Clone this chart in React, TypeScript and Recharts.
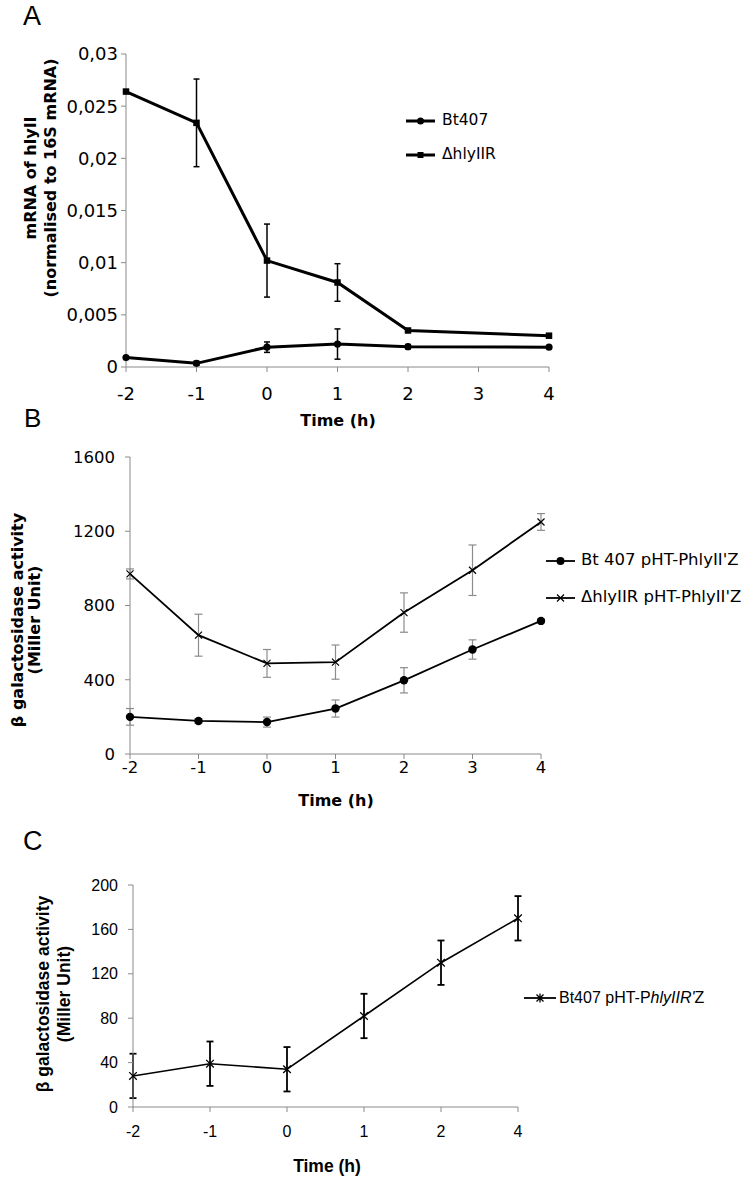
import React from 'react';
import { LineChart, Line, XAxis, YAxis, ErrorBar, Legend } from 'recharts';

// ---------- Panel A data ----------
const timesA = [-2, -1, 0, 1, 2, 4];
const ticksA = [-2, -1, 0, 1, 2, 3, 4];
const bt407A = [0.0009, 0.00035, 0.0019, 0.0022, 0.00195, 0.0019];
const bt407AErr = [0, 0.0002, 0.0005, 0.00145, 0.0002, 0];
const dRA = [0.0264, 0.0234, 0.0102, 0.0081, 0.0035, 0.003];
const dRAErr = [0, 0.0042, 0.0035, 0.0018, 0.0001, 0.0001];
const yTicksA = [0, 0.005, 0.01, 0.015, 0.02, 0.025, 0.03];

// ---------- Panel B data ----------
const timesB = [-2, -1, 0, 1, 2, 3, 4];
const bt407B = [200, 178, 172, 245, 397, 563, 717];
const bt407BErr = [45, 12, 27, 46, 68, 52, 10];
const dRB = [970, 640, 488, 495, 762, 990, 1250];
const dRBErr = [27, 113, 75, 92, 106, 136, 45];
const yTicksB = [0, 400, 800, 1200, 1600];

// ---------- Panel C data ----------
const timesC = ['-2', '-1', '0', '1', '2', '4'];
const btC = [28, 39, 34, 82, 130, 170];
const btCErr = [20, 20, 20, 20, 20, 20];
const yTicksC = [0, 40, 80, 120, 160, 200];

const dataA = timesA.map((t, i) => ({ t, bt: bt407A[i], btErr: bt407AErr[i], dr: dRA[i], drErr: dRAErr[i] }));
const dataB = timesB.map((t, i) => ({ t, bt: bt407B[i], btErr: bt407BErr[i], dr: dRB[i], drErr: dRBErr[i] }));
const dataC = timesC.map((t, i) => ({ t, v: btC[i], err: btCErr[i] }));

const VERDANA = '"DejaVu Sans", Verdana, sans-serif';
const ARIAL = '"Liberation Sans", Arial, sans-serif';
const AXIS_GRAY = '#8a8a8a';

const circleDot = (r: number) => (p: any) => (
  <circle key={`c${p.index}`} cx={p.cx} cy={p.cy} r={r} fill="#000" stroke="none" />
);
const squareDot = (s: number) => (p: any) => (
  <rect key={`s${p.index}`} x={p.cx - s / 2} y={p.cy - s / 2} width={s} height={s} fill="#000" stroke="none" />
);
const xPath = (cx: number, cy: number, s: number, star: boolean) =>
  `M${cx - s},${cy - s}L${cx + s},${cy + s}M${cx - s},${cy + s}L${cx + s},${cy - s}` +
  (star ? `M${cx},${cy - s - 1}L${cx},${cy + s + 1}` : '');
const xDot = (s: number, sw: number, star = false) => (p: any) => (
  <path key={`x${p.index}`} d={xPath(p.cx, p.cy, s, star)} stroke="#000" strokeWidth={sw} fill="none" />
);

type LegItem = { label: React.ReactNode; marker: (cx: number, cy: number) => React.ReactNode };

const makeLegend = (
  items: LegItem[],
  o: { font: string; size: number; rowH: number; iconW: number; gap: number; lw: number }
) => () => (
  <div style={{ fontFamily: o.font, fontSize: o.size, color: '#000' }}>
    {items.map((it, i) => (
      <div key={i} style={{ display: 'flex', alignItems: 'center', height: o.rowH }}>
        <svg width={o.iconW} height={14} style={{ display: 'block', flex: 'none' }}>
          <line x1={0} y1={7} x2={o.iconW} y2={7} stroke="#000" strokeWidth={o.lw} />
          {it.marker(o.iconW / 2, 7)}
        </svg>
        <span style={{ marginLeft: o.gap, whiteSpace: 'nowrap', lineHeight: 1 }}>{it.label}</span>
      </div>
    ))}
  </div>
);

const legendA = makeLegend(
  [
    { label: 'Bt407', marker: (cx, cy) => <circle cx={cx} cy={cy} r={3.5} fill="#000" /> },
    { label: 'ΔhlyIIR', marker: (cx, cy) => <rect x={cx - 3} y={cy - 3} width={6} height={6} fill="#000" /> },
  ],
  { font: VERDANA, size: 15.5, rowH: 34, iconW: 29, gap: 7, lw: 3 }
);

const legendB = makeLegend(
  [
    { label: "Bt 407 pHT-PhlyII'Z", marker: (cx, cy) => <circle cx={cx} cy={cy} r={4} fill="#000" /> },
    {
      label: "ΔhlyIIR pHT-PhlyII'Z",
      marker: (cx, cy) => <path d={xPath(cx, cy, 3.5, false)} stroke="#000" strokeWidth={1.2} fill="none" />,
    },
  ],
  { font: VERDANA, size: 16.5, rowH: 37, iconW: 29, gap: 6, lw: 1.8 }
);

const legendC = makeLegend(
  [
    {
      label: (
        <span>
          Bt407 pHT-P<i>hlyIIR'</i>Z
        </span>
      ),
      marker: (cx, cy) => <path d={xPath(cx, cy, 3.5, true)} stroke="#000" strokeWidth={1.3} fill="none" />,
    },
  ],
  { font: ARIAL, size: 16, rowH: 30, iconW: 32, gap: 3, lw: 1.8 }
);

const fmtComma = (v: number) => String(v).replace('.', ',');

const Title = ({ x, y, lines, font, size, gap }: { x: number; y: number; lines: string[]; font: string; size: number; gap: number }) => (
  <g transform={`rotate(-90, ${x}, ${y})`}>
    {lines.map((l, i) => (
      <text
        key={i}
        x={x}
        y={y + i * gap}
        textAnchor="middle"
        dominantBaseline="central"
        fontFamily={font}
        fontSize={size}
        fontWeight="bold"
        fill="#000"
      >
        {l}
      </text>
    ))}
  </g>
);

export default function App() {
  return (
    <div style={{ position: 'absolute', left: 0, top: 0, width: 753, height: 1180, background: '#fff' }}>
      {/* Panel A */}
      <div style={{ position: 'absolute', left: 0, top: 0 }}>
        <LineChart width={753} height={440} data={dataA} margin={{ top: 54, right: 204, bottom: 43, left: 66 }}>
          <XAxis
            type="number"
            dataKey="t"
            domain={[-2, 4]}
            ticks={ticksA}
            interval={0}
            axisLine={{ stroke: AXIS_GRAY }}
            tickLine={{ stroke: AXIS_GRAY }}
            tickSize={5}
            tickMargin={15}
            tick={{ fill: '#000', fontSize: 18, fontFamily: VERDANA }}
          />
          <YAxis
            width={60}
            domain={[0, 0.03]}
            ticks={yTicksA}
            interval={0}
            tickFormatter={fmtComma}
            axisLine={{ stroke: AXIS_GRAY }}
            tickLine={{ stroke: AXIS_GRAY }}
            tickSize={5}
            tickMargin={3}
            tick={{ fill: '#000', fontSize: 18, fontFamily: VERDANA }}
          />
          <Line
            dataKey="bt"
            stroke="#000"
            strokeWidth={3}
            isAnimationActive={false}
            dot={circleDot(3.6)}
            activeDot={false}
          >
            <ErrorBar dataKey="btErr" direction="y" width={3} stroke="#000" strokeWidth={1.5} />
          </Line>
          <Line
            dataKey="dr"
            stroke="#000"
            strokeWidth={3}
            isAnimationActive={false}
            dot={squareDot(6.5)}
            activeDot={false}
          >
            <ErrorBar dataKey="drErr" direction="y" width={3} stroke="#000" strokeWidth={1.5} />
          </Line>
          <Legend
            layout="vertical"
            align="center"
            verticalAlign="middle"
            wrapperStyle={{ left: 406, top: 104, width: 220 }}
            content={legendA}
          />
        </LineChart>
      </div>

      {/* Panel B */}
      <div style={{ position: 'absolute', left: 0, top: 420 }}>
        <LineChart width={753} height={400} data={dataB} margin={{ top: 37, right: 212, bottom: 36, left: 70 }}>
          <XAxis
            type="number"
            dataKey="t"
            domain={[-2, 4]}
            ticks={timesB}
            interval={0}
            axisLine={{ stroke: AXIS_GRAY }}
            tickLine={{ stroke: AXIS_GRAY }}
            tickSize={5}
            tickMargin={2}
            tick={{ fill: '#000', fontSize: 16.5, fontFamily: VERDANA }}
          />
          <YAxis
            width={60}
            domain={[0, 1600]}
            ticks={yTicksB}
            interval={0}
            axisLine={{ stroke: AXIS_GRAY }}
            tickLine={{ stroke: AXIS_GRAY }}
            tickSize={5}
            tickMargin={10}
            tick={{ fill: '#000', fontSize: 16.5, fontFamily: VERDANA }}
          />
          <Line
            dataKey="bt"
            stroke="#000"
            strokeWidth={1.8}
            isAnimationActive={false}
            dot={circleDot(4.2)}
            activeDot={false}
          >
            <ErrorBar dataKey="btErr" direction="y" width={4} stroke="#8c8c8c" strokeWidth={1.2} />
          </Line>
          <Line
            dataKey="dr"
            stroke="#000"
            strokeWidth={1.8}
            isAnimationActive={false}
            dot={xDot(3.5, 1.2)}
            activeDot={false}
          >
            <ErrorBar dataKey="drErr" direction="y" width={4} stroke="#8c8c8c" strokeWidth={1.2} />
          </Line>
          <Legend
            layout="vertical"
            align="center"
            verticalAlign="middle"
            wrapperStyle={{ left: 546, top: 122, width: 207 }}
            content={legendB}
          />
        </LineChart>
      </div>

      {/* Panel C */}
      <div style={{ position: 'absolute', left: 0, top: 820 }}>
        <LineChart width={753} height={360} data={dataC} margin={{ top: 65, right: 235, bottom: 43, left: 73 }}>
          <XAxis
            dataKey="t"
            interval={0}
            axisLine={{ stroke: AXIS_GRAY }}
            tickLine={{ stroke: AXIS_GRAY }}
            tickSize={5}
            tickMargin={14}
            tick={{ fill: '#000', fontSize: 16, fontFamily: ARIAL }}
          />
          <YAxis
            width={60}
            domain={[0, 200]}
            ticks={yTicksC}
            interval={0}
            axisLine={{ stroke: AXIS_GRAY }}
            tickLine={{ stroke: AXIS_GRAY }}
            tickSize={5}
            tickMargin={10}
            tick={{ fill: '#000', fontSize: 16, fontFamily: ARIAL }}
          />
          <Line
            dataKey="v"
            stroke="#000"
            strokeWidth={1.6}
            isAnimationActive={false}
            dot={xDot(3.8, 1.3)}
            activeDot={false}
          >
            <ErrorBar dataKey="err" direction="y" width={3.5} stroke="#000" strokeWidth={1.8} />
          </Line>
          <Legend
            layout="vertical"
            align="center"
            verticalAlign="middle"
            wrapperStyle={{ left: 524, top: 163, width: 229 }}
            content={legendC}
          />
        </LineChart>
      </div>

      {/* Panel letters and axis titles */}
      <svg
        width={753}
        height={1180}
        style={{ position: 'absolute', left: 0, top: 0, pointerEvents: 'none' }}
      >
        <text x={23} y={25} fontFamily={ARIAL} fontSize={27} fill="#000">A</text>
        <text x={24} y={427} fontFamily={ARIAL} fontSize={26} fill="#000">B</text>
        <text x={23} y={850} fontFamily={ARIAL} fontSize={27} fill="#000">C</text>

        <Title x={30} y={178} lines={['mRNA of hlyII', '(normalised to 16S mRNA)']} font={VERDANA} size={16} gap={20} />
        <text x={338} y={420} textAnchor="middle" dominantBaseline="central" fontFamily={VERDANA} fontSize={16} fontWeight="bold">
          Time (h)
        </text>

        <Title x={17} y={620} lines={['β galactosidase activity', '(Miller Unit)']} font={VERDANA} size={16} gap={17} />
        <text x={336} y={800} textAnchor="middle" dominantBaseline="central" fontFamily={VERDANA} fontSize={16} fontWeight="bold">
          Time (h)
        </text>

        <Title x={43} y={994} lines={['β galactosidase activity', '(Miller Unit)']} font={ARIAL} size={17.5} gap={20.5} />
        <text x={327} y={1166} textAnchor="middle" dominantBaseline="central" fontFamily={ARIAL} fontSize={17.5} fontWeight="bold">
          Time (h)
        </text>
      </svg>
    </div>
  );
}
